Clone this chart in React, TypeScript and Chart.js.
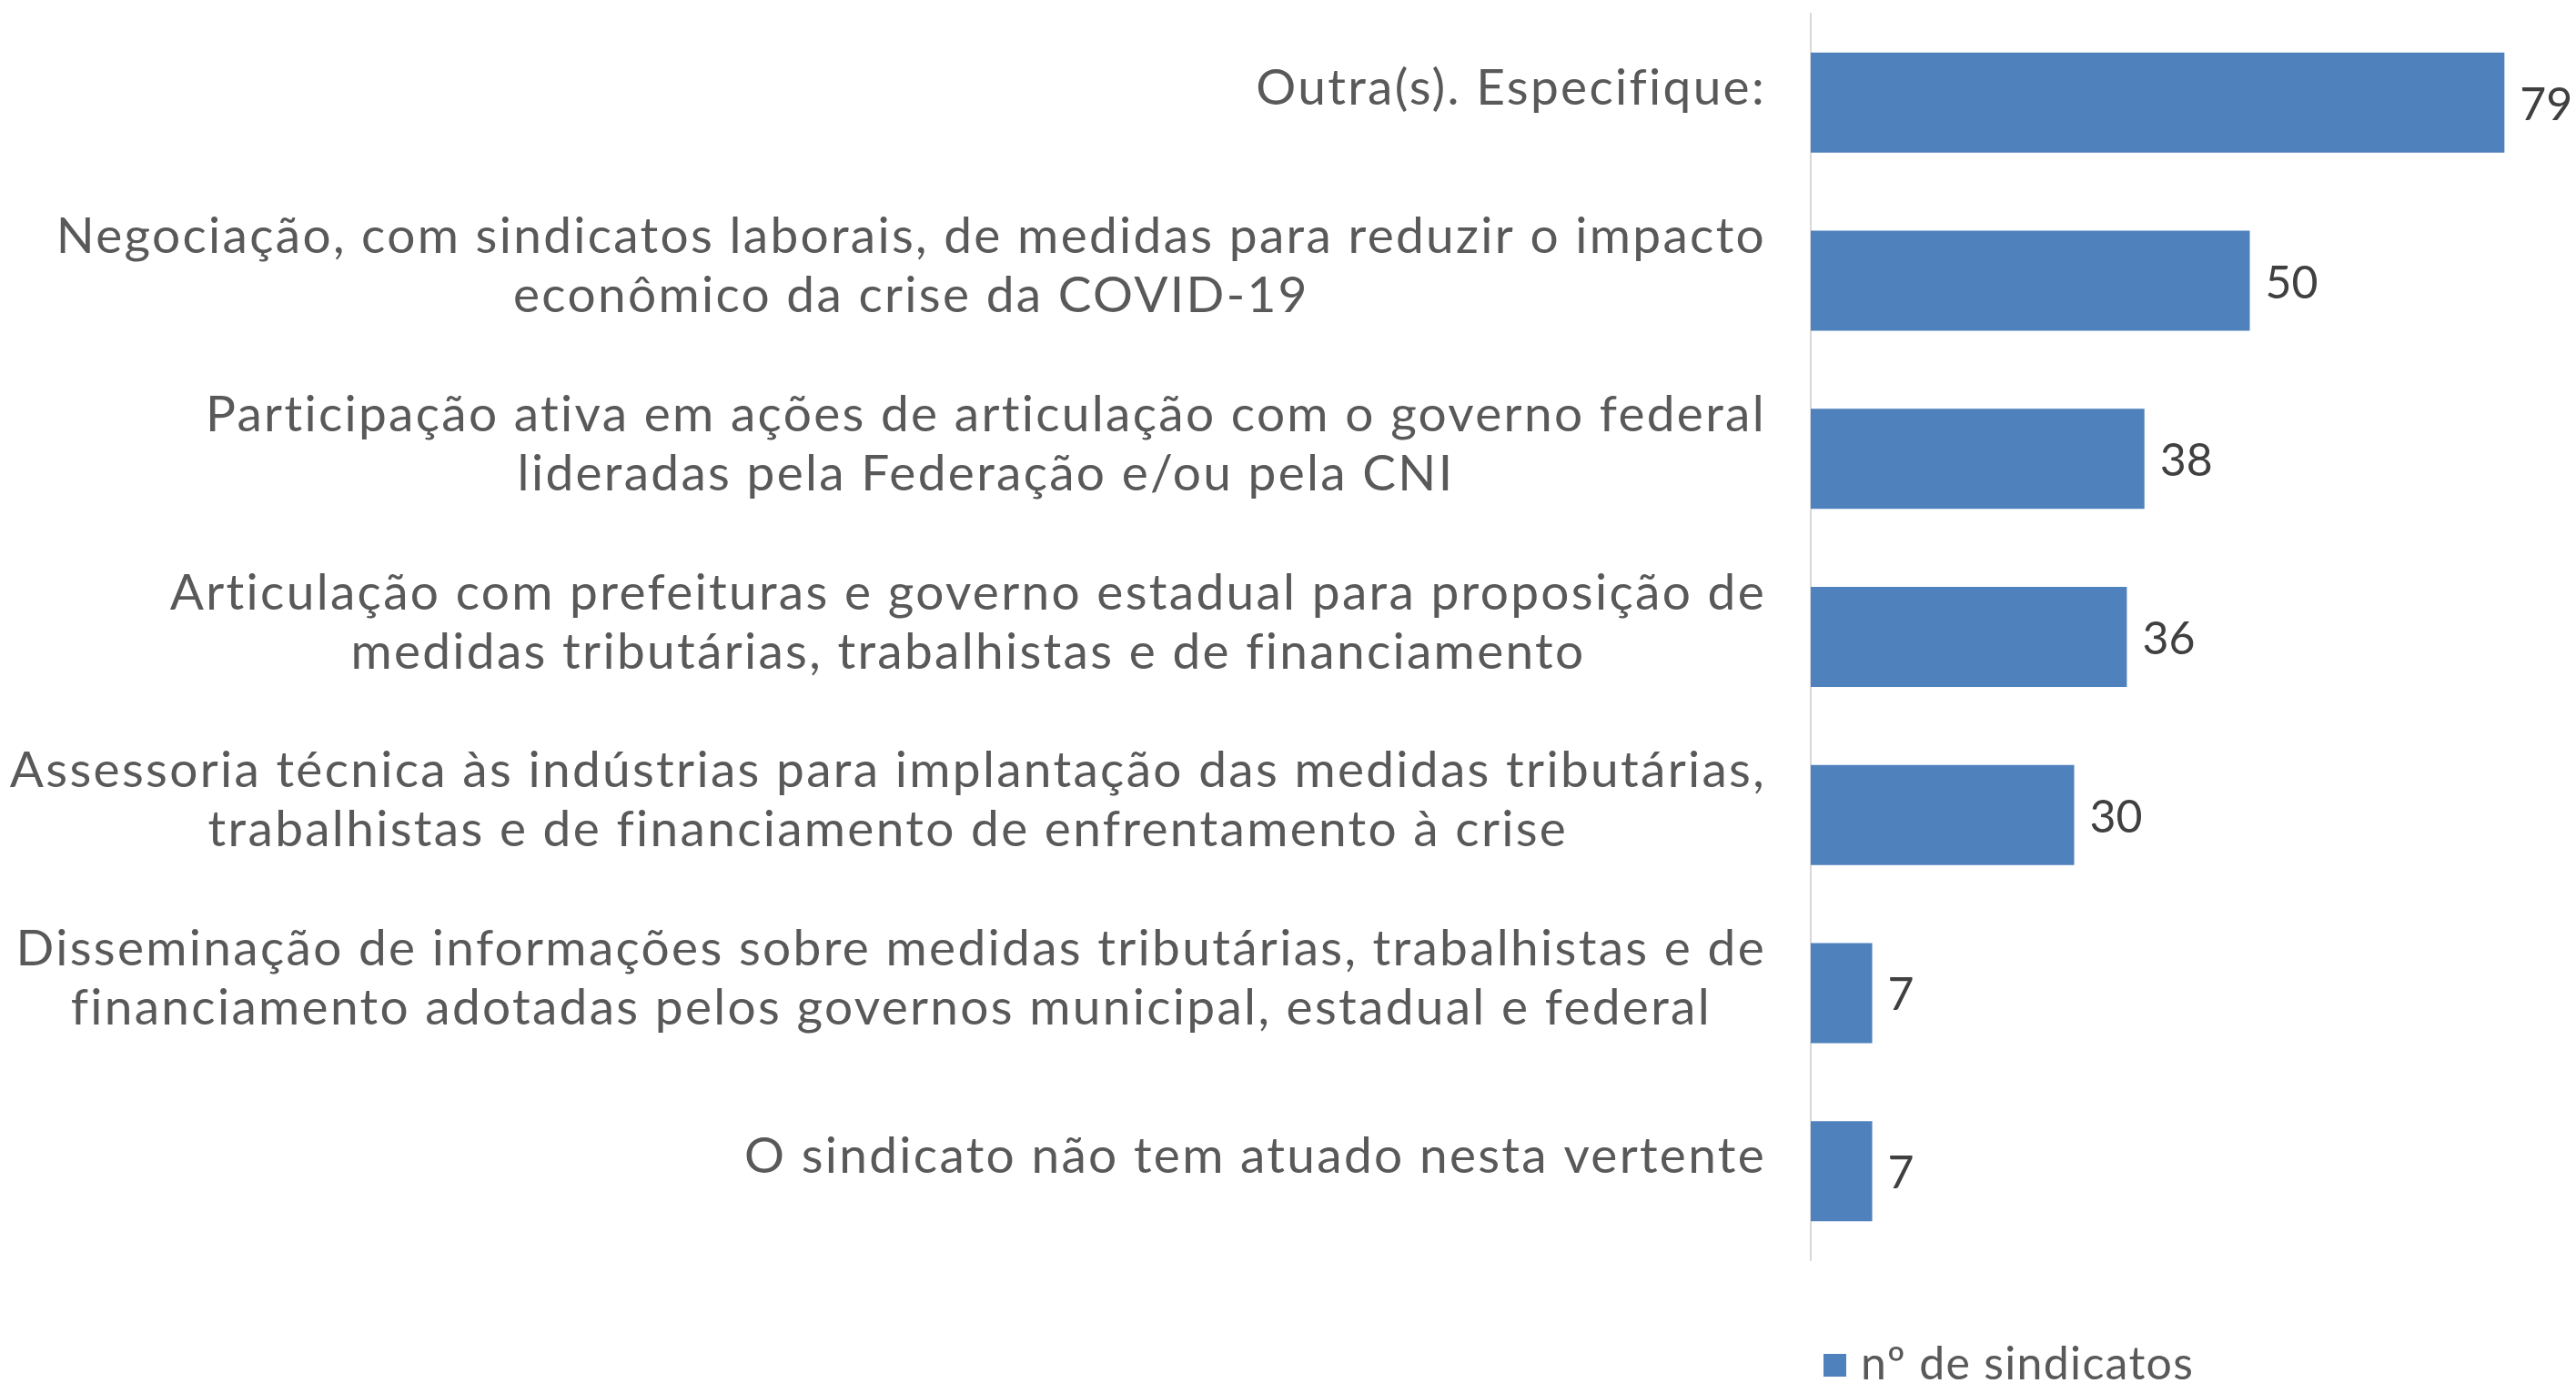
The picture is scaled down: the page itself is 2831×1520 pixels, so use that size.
import React, { useEffect, useRef } from "react";
import { Chart, registerables } from "chart.js";

Chart.register(...registerables);

const categoryLines: string[][] = [
  ["Outra(s). Especifique:"],
  ["Negociação, com sindicatos laborais, de medidas para reduzir o impacto", "econômico da crise da COVID-19"],
  ["Participação ativa em ações de articulação com o governo federal", "lideradas pela Federação e/ou pela CNI"],
  ["Articulação com prefeituras e governo estadual para proposição de", "medidas tributárias, trabalhistas e de financiamento"],
  ["Assessoria técnica às indústrias para implantação das medidas tributárias,", "trabalhistas e de financiamento de enfrentamento à crise"],
  ["Disseminação de informações sobre medidas tributárias, trabalhistas e de", "financiamento adotadas pelos governos municipal, estadual e federal"],
  ["O sindicato não tem atuado nesta vertente"],
];
const seriesLabel = "nº de sindicatos";
const seriesValues: number[] = [79, 50, 38, 36, 30, 7, 7];

const W = 2831;
const H = 1520;
const FONT = "Lato";
const LABEL_SIZE = 55;
const VALUE_SIZE = 50;
const LEGEND_SIZE = 50;
const BAR_COLOR = "#4F81BD";
const TEXT_COLOR = "#595959";
const VALUE_COLOR = "#404040";

const drawPlugin = {
  id: "customText",
  afterDraw(chart: any) {
    const ctx: any = chart.ctx;
    const yScale = chart.scales.y;
    ctx.save();
    // category labels
    ctx.font = `${LABEL_SIZE}px ${FONT}`;
    ctx.letterSpacing = "2.3px";
    ctx.fillStyle = TEXT_COLOR;
    ctx.textAlign = "center";
    ctx.textBaseline = "alphabetic";
    const lineH = 65;
    categoryLines.forEach((lines, i) => {
      const cy = yScale.getPixelForValue(i);
      const blockW = Math.max(...lines.map((l) => ctx.measureText(l).width));
      const cx = yScale.right - 49 - blockW / 2;
      const n = lines.length;
      lines.forEach((l, j) => {
        ctx.fillText(l, cx, cy + 2 + (j - (n - 1) / 2) * lineH);
      });
    });
    // value labels
    const meta = chart.getDatasetMeta(0);
    ctx.font = `${VALUE_SIZE}px ${FONT}`;
    ctx.letterSpacing = "0px";
    ctx.fillStyle = VALUE_COLOR;
    ctx.textAlign = "left";
    meta.data.forEach((bar: any, i: number) => {
      ctx.fillText(String(seriesValues[i]), bar.x + 17, bar.y + 19);
    });
    // legend
    const lx = 2004;
    const ly = 1488;
    ctx.fillStyle = BAR_COLOR;
    ctx.fillRect(lx, ly, 25, 25);
    ctx.font = `${LEGEND_SIZE}px ${FONT}`;
    ctx.letterSpacing = "1.3px";
    ctx.fillStyle = TEXT_COLOR;
    ctx.textAlign = "left";
    ctx.fillText(seriesLabel, lx + 41, ly + 28);
    ctx.restore();
  },
};

export default function App() {
  const ref = useRef<HTMLCanvasElement | null>(null);
  useEffect(() => {
    if (!ref.current) return;
    const chart = new Chart(ref.current, {
      type: "bar",
      data: {
        labels: categoryLines.map((l) => l.join(" ")),
        datasets: [
          {
            label: seriesLabel,
            data: seriesValues,
            backgroundColor: BAR_COLOR,
            borderWidth: 0,
            barPercentage: 0.562,
            categoryPercentage: 1,
          },
        ],
      },
      options: {
        indexAxis: "y",
        animation: false,
        responsive: false,
        maintainAspectRatio: false,
        devicePixelRatio: 1,
        layout: { padding: { top: 15, bottom: 135, left: 0, right: 69 } },
        plugins: {
          legend: { display: false },
          tooltip: { enabled: false },
        },
        scales: {
          x: { display: false, min: 0, max: 80 },
          y: {
            display: true,
            grid: { display: false },
            border: { display: true, color: "#D9D9D9", width: 2 },
            ticks: { display: false },
            afterFit(scale: any) {
              scale.width = 1990;
            },
          },
        },
      },
      plugins: [drawPlugin],
    });
    return () => chart.destroy();
  }, []);
  return (
    <div style={{ position: "absolute", left: 0, top: 0, width: W, height: H, background: "#fff" }}>
      <canvas ref={ref} width={W} height={H} style={{ width: W, height: H, display: "block" }} />
    </div>
  );
}
